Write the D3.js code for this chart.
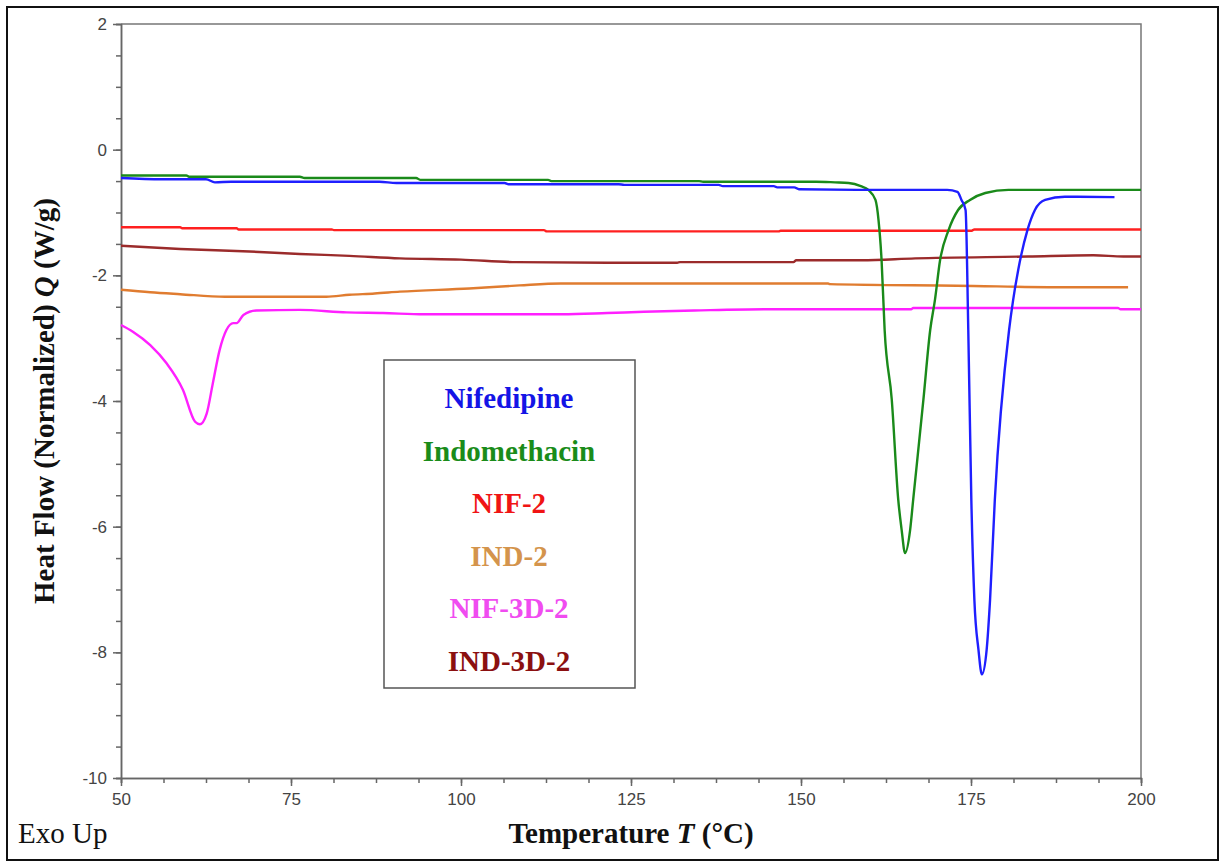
<!DOCTYPE html>
<html>
<head>
<meta charset="utf-8">
<script src="https://cdn.jsdelivr.net/npm/d3@7"></script>
<style>
  body { margin: 0; background: #fff; }
</style>
</head>
<body>
<script>

// DSC traces, [temperature (°C), heat flow (W/g)]
var nifedipine = [[50,-0.45],[56,-0.47],[62.5,-0.47],[63.8,-0.52],[66.2,-0.51],[88,-0.51],[90.5,-0.53],
  [106.4,-0.53],[107,-0.55],[123.2,-0.55],[124,-0.56],[137.9,-0.56],[138.5,-0.58],[146,-0.58],[146.5,-0.6],
  [149,-0.6],[149.7,-0.63],[160,-0.64],[171.5,-0.64],[173,-0.67],[173.6,-0.8],[174.2,-0.96],[174.6,-2.87],
  [175.05,-5.58],[175.5,-7.17],[176.1,-7.96],[176.6,-8.35],[177.3,-7.96],[177.8,-7.17],[178.5,-5.58],
  [180.6,-2.87],[181.2,-2.39],[181.95,-1.91],[183.3,-1.28],[184.4,-0.96],[185.9,-0.8],[188.8,-0.75],[196.1,-0.755]];

var indomethacin = [[50,-0.41],[59.6,-0.41],[60,-0.43],[76.3,-0.43],[77,-0.45],[93.4,-0.45],[94,-0.48],
  [112.8,-0.48],[113.3,-0.5],[135,-0.5],[135.6,-0.51],[152.2,-0.51],[155,-0.52],[157,-0.53],[158.8,-0.58],
  [159.9,-0.64],[160.95,-0.8],[161.4,-1.12],[161.85,-1.76],[162.3,-2.87],[163.35,-3.98],[164.3,-5.57],
  [164.8,-6.05],[165.3,-6.42],[166.05,-6.05],[166.5,-5.57],[168,-3.98],[169,-2.87],[169.7,-2.39],
  [170.45,-1.76],[171.7,-1.28],[173.1,-0.96],[174.85,-0.8],[177.1,-0.69],[180.5,-0.64],[200,-0.64]];

var nif2 = [[50,-1.235],[58.7,-1.235],[59,-1.25],[67,-1.25],[67.3,-1.27],[81,-1.27],[81.3,-1.28],
  [112.2,-1.28],[112.6,-1.3],[146.7,-1.3],[147,-1.29],[175.1,-1.29],[175.5,-1.27],[200,-1.27]];

var ind2 = [[50,-2.23],[54.3,-2.27],[58.7,-2.3],[65.3,-2.34],[80.2,-2.34],[83.6,-2.31],[87.3,-2.29],
  [91,-2.26],[101.2,-2.21],[108.6,-2.16],[114.7,-2.13],[154,-2.13],[154.2,-2.14],[172.9,-2.165],
  [190,-2.19],[198.1,-2.19]];

var nif3d2 = [[50,-2.79],[51.8,-2.9],[54.3,-3.11],[56.7,-3.4],[59.1,-3.82],[60.9,-4.33],[61.6,-4.37],
  [62.6,-4.2],[63.5,-3.72],[64.5,-3.19],[65.5,-2.87],[66.5,-2.76],[67,-2.76],[68,-2.63],[69.9,-2.56],
  [76.3,-2.55],[83.2,-2.59],[88.5,-2.6],[94.6,-2.62],[114.9,-2.62],[121.5,-2.6],[126.9,-2.58],
  [134.3,-2.56],[144.8,-2.54],[166.2,-2.54],[166.5,-2.52],[196.6,-2.52],[197,-2.54],[200,-2.54]];

var ind3d2 = [[50,-1.53],[58.7,-1.58],[68.9,-1.62],[76.3,-1.66],[83.6,-1.69],[91,-1.73],[100,-1.75],
  [108.1,-1.79],[121.5,-1.8],[131.8,-1.8],[132.2,-1.79],[148.9,-1.79],[149.3,-1.76],[158.9,-1.76],
  [166.8,-1.73],[183.4,-1.7],[193,-1.68],[197.4,-1.7],[200,-1.7]];

var seriesNames = ["Nifedipine", "Indomethacin", "NIF-2", "IND-2", "NIF-3D-2", "IND-3D-2"];
var seriesData = [nifedipine, indomethacin, nif2, ind2, nif3d2, ind3d2];
var lineColors = ["#1f1fff", "#1a8a1a", "#ff2020", "#e07c30", "#ff20ff", "#9b2b2b"];
var legendColors = ["#1414e6", "#1a8c1a", "#f01414", "#d4944c", "#f04cf0", "#8b1010"];

var xTicks = [50, 75, 100, 125, 150, 175, 200];
var yTicks = [-10, -8, -6, -4, -2, 0, 2];

var svgConfig = {
  width: 1223,
  height: 867,
  margin: { top: 24, right: 80, bottom: 89, left: 121 }
};

var svg = d3.select("body").append("svg")
  .attr("width", svgConfig.width)
  .attr("height", svgConfig.height)
  .style("font-family", "'Liberation Serif', 'Times New Roman', serif");

// outer frame of the figure
svg.append("rect")
  .attr("x", 7).attr("y", 7)
  .attr("width", 1211).attr("height", 853)
  .attr("fill", "none")
  .attr("stroke", "#111")
  .attr("stroke-width", 2);

var x0 = svgConfig.margin.left, x1 = svgConfig.width - svgConfig.margin.right - 2;
var y0 = svgConfig.height - svgConfig.margin.bottom, y1 = svgConfig.margin.top;

var xScale = d3.scaleLinear().domain([50, 200]).range([x0, x1]);
var yScale = d3.scaleLinear().domain([-10, 2]).range([y0, y1]);

// top and right edges of plot box
svg.append("path")
  .attr("d", "M" + x0 + "," + y1 + "H" + x1 + "V" + y0)
  .attr("fill", "none")
  .attr("stroke", "#777")
  .attr("stroke-width", 1.5);

function styleAxis(g) {
  g.select(".domain").attr("stroke", "#666").attr("stroke-width", 1.5);
  g.selectAll(".tick line").attr("stroke", "#666").attr("stroke-width", 1.5);
  g.selectAll(".tick text")
    .attr("fill", "#444")
    .style("font-family", "'Liberation Sans', Arial, sans-serif")
    .style("font-size", "17px");
}

// plain hyphen for negatives, like the original
var tickFmt = function(d) { return String(d); };

// minor ticks
svg.append("g")
  .attr("transform", "translate(0," + y0 + ")")
  .call(d3.axisBottom(xScale).tickValues(d3.range(50, 200.1, 6.25)).tickSize(5).tickFormat(""))
  .call(styleAxis);
svg.append("g")
  .attr("transform", "translate(" + x0 + ",0)")
  .call(d3.axisLeft(yScale).tickValues(d3.range(-10, 2.01, 0.5)).tickSize(5).tickFormat(""))
  .call(styleAxis);

// major ticks
svg.append("g")
  .attr("transform", "translate(0," + y0 + ")")
  .call(d3.axisBottom(xScale).tickValues(xTicks).tickFormat(tickFmt).tickSize(8).tickPadding(7).tickSizeOuter(0))
  .call(styleAxis);
svg.append("g")
  .attr("transform", "translate(" + x0 + ",0)")
  .call(d3.axisLeft(yScale).tickValues(yTicks).tickFormat(tickFmt).tickSize(8).tickPadding(6).tickSizeOuter(0))
  .call(styleAxis);

var line = d3.line()
  .x(function(d) { return xScale(d[0]); })
  .y(function(d) { return yScale(d[1]); })
  .curve(d3.curveMonotoneX);

// draw order: baselines first, sharp peaks on top
[5, 3, 4, 2, 1, 0].forEach(function(i) {
  svg.append("path")
    .attr("d", line(seriesData[i]))
    .attr("fill", "none")
    .attr("stroke", lineColors[i])
    .attr("stroke-width", 2.4)
    .attr("stroke-linejoin", "round");
});

// legend
svg.append("rect")
  .attr("x", 384).attr("y", 360)
  .attr("width", 251).attr("height", 328)
  .attr("fill", "#fff")
  .attr("stroke", "#555")
  .attr("stroke-width", 1.5);

svg.append("g").selectAll("text")
  .data(seriesNames)
  .enter().append("text")
  .attr("x", 509)
  .attr("y", function(d, i) { return 408 + i * 52.6; })
  .attr("text-anchor", "middle")
  .attr("font-weight", "bold")
  .attr("font-size", 29)
  .attr("fill", function(d, i) { return legendColors[i]; })
  .text(function(d) { return d; });

// axis titles
var xTitle = svg.append("text")
  .attr("x", (x0 + x1) / 2)
  .attr("y", 843)
  .attr("text-anchor", "middle")
  .attr("font-weight", "bold")
  .attr("font-size", 29)
  .attr("fill", "#111");
xTitle.append("tspan").text("Temperature ");
xTitle.append("tspan").attr("font-style", "italic").text("T");
xTitle.append("tspan").text(" (°C)");

var yTitle = svg.append("text")
  .attr("transform", "translate(54," + ((y0 + y1) / 2) + ") rotate(-90)")
  .attr("text-anchor", "middle")
  .attr("font-weight", "bold")
  .attr("font-size", 29)
  .attr("fill", "#111");
yTitle.append("tspan").text("Heat Flow (Normalized) ");
yTitle.append("tspan").attr("font-style", "italic").text("Q");
yTitle.append("tspan").text(" (W/g)");

svg.append("text")
  .attr("x", 18)
  .attr("y", 843)
  .attr("font-size", 29)
  .attr("fill", "#111")
  .text("Exo Up");

</script>
</body>
</html>
